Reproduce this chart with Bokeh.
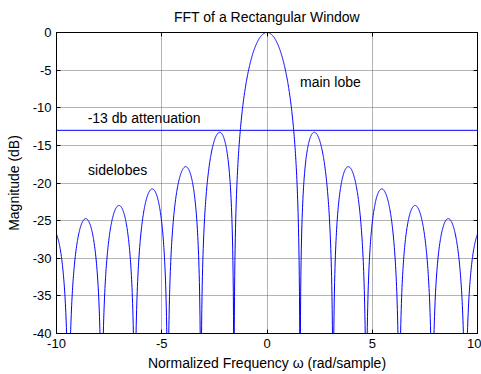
import numpy as np
from bokeh.plotting import figure
from bokeh.models import LinearAxis, FixedTicker, Span, ColumnDataSource
from bokeh.core.properties import value
from bokeh.embed import file_html
from bokeh.resources import INLINE

# Rectangular window: support length, sampling step and zero-padded FFT size
window_length = 4.0
sample_step = 0.01
fft_size = 2 ** 16

# Reference level for the first sidelobe
attenuation_db = -13

# Axis ticks
x_ticks = [-10, -5, 0, 5, 10]
y_ticks = [0, -5, -10, -15, -20, -25, -30, -35, -40]

# Annotations (data coordinates)
note_text = ["main lobe", "-13 db attenuation", "sidelobes"]
note_x = [1.57, -8.52, -8.5]
note_y = [-6.6, -11.4, -18.3]

# Spectrum of the rectangular window
n_samples = int(round(window_length / sample_step))
window = np.ones(n_samples)
spectrum = np.fft.fftshift(np.abs(np.fft.fft(window, fft_size)))
omega = np.fft.fftshift(2 * np.pi * np.fft.fftfreq(fft_size, d=sample_step))
keep = np.abs(omega) <= 10.5
omega = omega[keep]
mag_db = 20 * np.log10(np.maximum(spectrum[keep] / spectrum.max(), 1e-12))

FONT = "Liberation Sans"

p = figure(width=481, height=374, x_range=(-10, 10), y_range=(-40, 0),
           output_backend="svg", toolbar_location=None,
           title="FFT of a Rectangular Window",
           x_axis_label="Normalized Frequency \u03c9 (rad/sample)",
           y_axis_label="Magnitude (dB)")
p.min_border_left = 56
p.min_border_right = 4
p.min_border_top = 32
p.min_border_bottom = 41
p.background_fill_color = "white"
p.border_fill_color = "white"
p.outline_line_color = "black"
p.outline_line_width = 1

p.title.align = "center"
p.title.vertical_align = "top"
p.title.text_font = FONT
p.title.text_font_size = "14px"
p.title.text_font_style = "normal"
p.title.text_color = "black"
p.title.standoff = 12

for ax, ticks in ((p.xaxis[0], x_ticks), (p.yaxis[0], y_ticks)):
    ax.ticker = FixedTicker(ticks=ticks)
    ax.major_label_overrides = {t: str(t) for t in ticks}
    ax.major_tick_in = 4
    ax.major_tick_out = 0
    ax.minor_tick_line_color = None
    ax.axis_line_color = "black"
    ax.major_tick_line_color = "black"
    ax.major_label_text_font = FONT
    ax.major_label_text_font_size = "13px"
    ax.major_label_text_color = "black"
    ax.axis_label_text_font = FONT
    ax.axis_label_text_font_size = "14px"
    ax.axis_label_text_font_style = "normal"
    ax.axis_label_text_color = "black"

p.xaxis[0].major_label_standoff = 5
p.xaxis[0].axis_label_standoff = 4
p.yaxis[0].major_label_standoff = 5
p.yaxis[0].axis_label_standoff = 8

# Tick marks on the top and right edges, without labels
for side, ticks in (("above", x_ticks), ("right", y_ticks)):
    ax = LinearAxis(ticker=FixedTicker(ticks=ticks))
    ax.major_label_overrides = {t: "" for t in ticks}
    ax.major_label_text_font_size = "1px"
    ax.major_tick_in = 4
    ax.major_tick_out = 0
    ax.minor_tick_line_color = None
    ax.major_label_standoff = 0
    ax.axis_line_color = "black"
    ax.major_tick_line_color = "black"
    p.add_layout(ax, side)

p.xgrid.ticker = FixedTicker(ticks=x_ticks)
p.ygrid.ticker = FixedTicker(ticks=y_ticks)
for g in (p.xgrid[0], p.ygrid[0]):
    g.grid_line_color = "#666666"
    g.grid_line_dash = "1 1"
    g.grid_line_width = 1

p.line(omega, mag_db, line_color="#0000ff", line_width=1)
p.add_layout(Span(location=attenuation_db, dimension="width",
                  line_color="#0000ff", line_width=1))

notes = ColumnDataSource(dict(x=note_x, y=note_y, text=note_text))
p.text(x="x", y="y", text="text", source=notes, text_font=value(FONT),
       text_font_size="14px", text_color="black",
       text_align="left", text_baseline="middle")

open("out.html", "w").write(file_html(p, INLINE))
